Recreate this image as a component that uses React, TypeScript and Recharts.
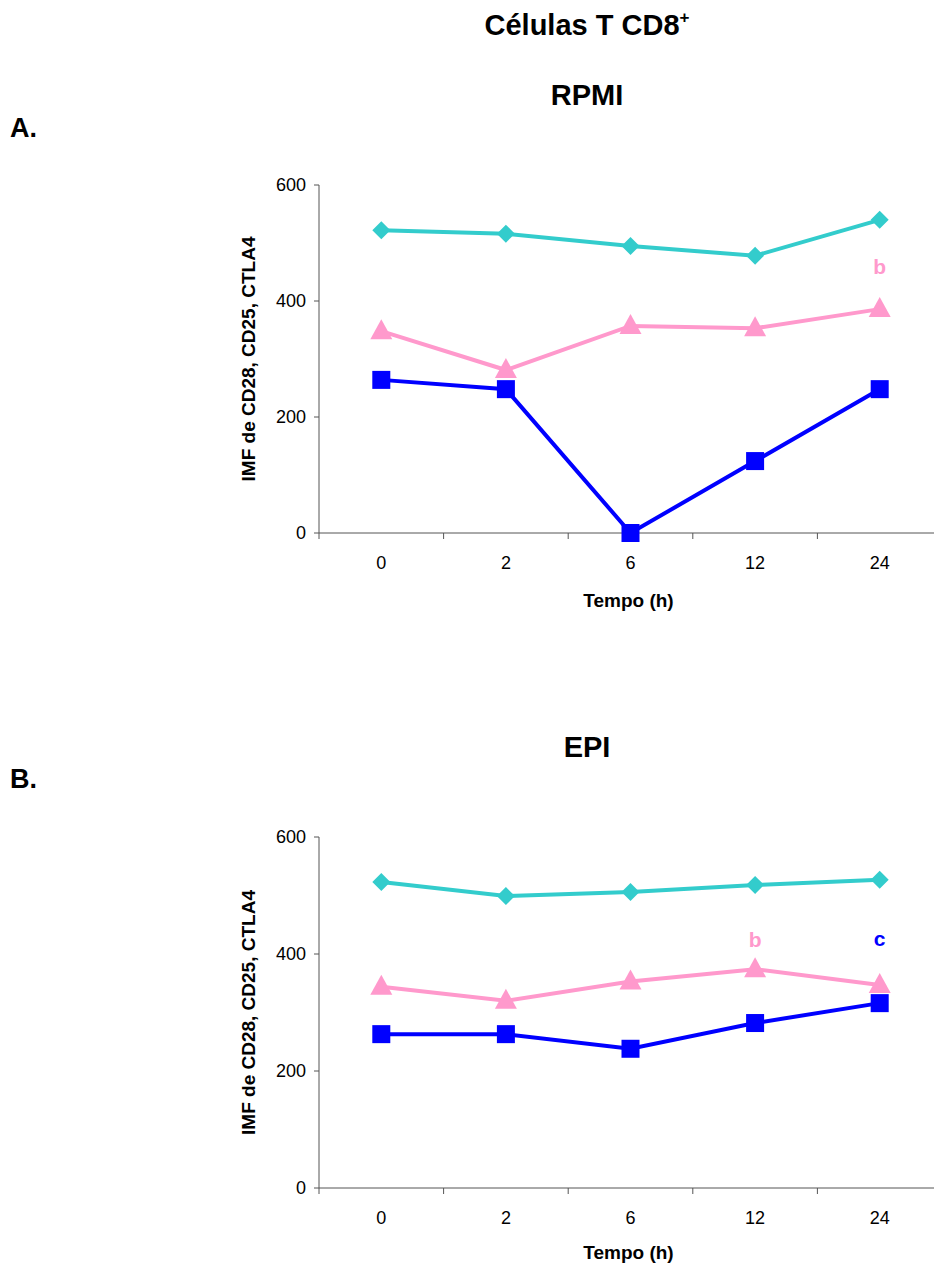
import React from 'react';
import { LineChart, Line, XAxis, YAxis, ReferenceDot, Label } from 'recharts';

const times = ['0', '2', '6', '12', '24'];
const yTicks = [0, 200, 400, 600];

const rpmiDiamond = [522, 516, 495, 478, 540];
const rpmiTriangle = [348, 281, 357, 353, 386];
const rpmiSquare = [264, 248, 0, 124, 248];

const epiDiamond = [523, 499, 506, 518, 527];
const epiTriangle = [344, 320, 353, 374, 347];
const epiSquare = [263, 263, 238, 282, 316];

const rpmiNotes = [{ time: '24', value: 460, text: 'b', series: 'triangle' }];
const epiNotes = [
  { time: '12', value: 424, text: 'b', series: 'triangle' },
  { time: '24', value: 427, text: 'c', series: 'square' },
];

const COLORS: Record<string, string> = { diamond: '#33CCCC', triangle: '#FF99CC', square: '#0000FF' };
const FONT = '"Liberation Sans", Arial, Helvetica, sans-serif';
const AXIS = '#555555';
const CHART_W = 945;
const MARGIN_LEFT = 259;
const YAXIS_W = 60;
const MARGIN_RIGHT = 3;
const PLOT_W = CHART_W - MARGIN_LEFT - YAXIS_W - MARGIN_RIGHT;
const HALF_BAND = PLOT_W / times.length / 2;
const X_TICK_MARGIN = 24;
const TICK_FS = 18;
const TITLE_FS = 19;

const XTick = (props: any) => {
  const { x, y, payload } = props;
  const axisY = y - X_TICK_MARGIN;
  return (
    <g>
      <line x1={x - HALF_BAND} x2={x - HALF_BAND} y1={axisY} y2={axisY + 6} stroke={AXIS} strokeWidth={1} />
      <text x={x} y={y - 1} dy="0.71em" textAnchor="middle" fontSize={TICK_FS} fontFamily={FONT} fill="#000">
        {payload.value}
      </text>
    </g>
  );
};

const diamondDot = (p: any) => {
  const { cx, cy, index } = p;
  const r = 9;
  return (
    <polygon
      key={`d${index}`}
      points={`${cx},${cy - r} ${cx + r},${cy} ${cx},${cy + r} ${cx - r},${cy}`}
      fill={COLORS.diamond}
    />
  );
};

const squareDot = (p: any) => {
  const { cx, cy, index } = p;
  const s = 9;
  return <rect key={`s${index}`} x={cx - s} y={cy - s} width={2 * s} height={2 * s} fill={COLORS.square} />;
};

const triangleDot = (p: any) => {
  const { cx, cy, index } = p;
  return (
    <polygon
      key={`t${index}`}
      points={`${cx},${cy - 12} ${cx + 11},${cy + 8} ${cx - 11},${cy + 8}`}
      fill={COLORS.triangle}
    />
  );
};

type PanelProps = {
  top: number;
  height: number;
  titleGap: number;
  diamond: number[];
  triangle: number[];
  square: number[];
  notes: { time: string; value: number; text: string; series: string }[];
};

function Panel({ top, height, titleGap, diamond, triangle, square, notes }: PanelProps) {
  const data = times.map((t, i) => ({ time: t, diamond: diamond[i], triangle: triangle[i], square: square[i] }));
  return (
    <div style={{ position: 'absolute', left: 0, top }}>
      <LineChart
        width={CHART_W}
        height={height}
        data={data}
        margin={{ top: 185, right: MARGIN_RIGHT, left: MARGIN_LEFT, bottom: 0 }}
      >
        <XAxis
          dataKey="time"
          type="category"
          height={80}
          padding={{ left: HALF_BAND, right: HALF_BAND }}
          tickLine={false}
          tickSize={0}
          tickMargin={X_TICK_MARGIN}
          tick={<XTick />}
          interval={0}
          axisLine={{ stroke: AXIS, strokeWidth: 1 }}
        >
          <Label
            content={(lp: any) => {
              const vb = lp.viewBox || {};
              return (
                <text
                  x={vb.x + vb.width / 2 - 2}
                  y={vb.y + titleGap}
                  textAnchor="middle"
                  dominantBaseline="central"
                  fontSize={TITLE_FS}
                  fontWeight="bold"
                  fontFamily={FONT}
                  fill="#000"
                >
                  Tempo (h)
                </text>
              );
            }}
          />
        </XAxis>
        <YAxis
          domain={[0, 600]}
          ticks={yTicks}
          interval={0}
          width={YAXIS_W}
          tickSize={5}
          tickMargin={8}
          axisLine={{ stroke: AXIS, strokeWidth: 1 }}
          tickLine={{ stroke: AXIS, strokeWidth: 1 }}
          tick={{ fill: '#000', fontSize: TICK_FS, fontFamily: FONT }}
        >
          <Label
            content={(lp: any) => {
              const vb = lp.viewBox || {};
              const x = vb.x - 11;
              const y = vb.y + vb.height / 2;
              return (
                <text
                  x={x}
                  y={y}
                  transform={`rotate(-90, ${x}, ${y})`}
                  textAnchor="middle"
                  dominantBaseline="central"
                  fontSize={TITLE_FS}
                  fontWeight="bold"
                  fontFamily={FONT}
                  fill="#000"
                >
                  IMF de CD28, CD25, CTLA4
                </text>
              );
            }}
          />
        </YAxis>
        <Line dataKey="diamond" stroke={COLORS.diamond} strokeWidth={4} dot={diamondDot} activeDot={false} isAnimationActive={false} />
        <Line dataKey="triangle" stroke={COLORS.triangle} strokeWidth={4} dot={triangleDot} activeDot={false} isAnimationActive={false} />
        <Line dataKey="square" stroke={COLORS.square} strokeWidth={4} dot={squareDot} activeDot={false} isAnimationActive={false} />
        {notes.map((n, i) => (
          <ReferenceDot
            key={`n${i}`}
            x={n.time}
            y={n.value}
            r={0}
            fill="none"
            stroke="none"
            label={{ value: n.text, position: 'center', fill: COLORS[n.series], fontSize: 21, fontWeight: 'bold', fontFamily: FONT }}
          />
        ))}
      </LineChart>
    </div>
  );
}

const textStyle: React.CSSProperties = {
  position: 'absolute',
  fontFamily: FONT,
  fontWeight: 'bold',
  color: '#000',
  whiteSpace: 'nowrap',
  lineHeight: 1,
};

export default function App() {
  return (
    <div style={{ position: 'absolute', left: 0, top: 0, width: 934, height: 1264, overflow: 'hidden', background: '#fff' }}>
      <div style={{ ...textStyle, left: 587, top: 25, fontSize: 29, transform: 'translate(-50%, -50%)' }}>
        Células T CD8<sup style={{ fontSize: 17, verticalAlign: 'top', position: 'relative', top: -2 }}>+</sup>
      </div>
      <div style={{ ...textStyle, left: 587, top: 95, fontSize: 29, transform: 'translate(-50%, -50%)' }}>RPMI</div>
      <div style={{ ...textStyle, left: 10, top: 128, fontSize: 27, transform: 'translate(0, -50%)' }}>A.</div>
      <Panel top={0} height={613} titleGap={67} diamond={rpmiDiamond} triangle={rpmiTriangle} square={rpmiSquare} notes={rpmiNotes} />
      <div style={{ ...textStyle, left: 587, top: 747, fontSize: 29, transform: 'translate(-50%, -50%)' }}>EPI</div>
      <div style={{ ...textStyle, left: 10, top: 779, fontSize: 27, transform: 'translate(0, -50%)' }}>B.</div>
      <Panel top={652} height={616} titleGap={64} diamond={epiDiamond} triangle={epiTriangle} square={epiSquare} notes={epiNotes} />
    </div>
  );
}
